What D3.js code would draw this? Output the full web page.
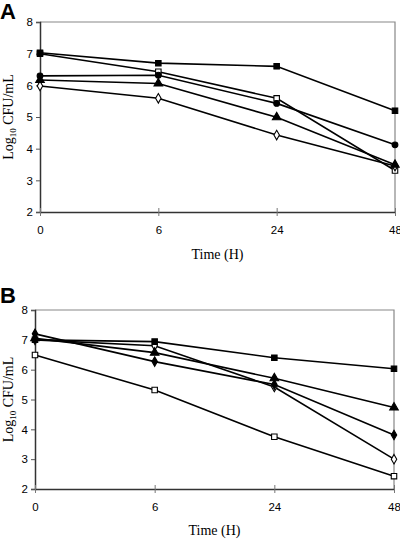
<!DOCTYPE html>
<html><head><meta charset="utf-8">
<script src="https://cdn.jsdelivr.net/npm/d3@7"></script>
<style>body{margin:0;background:#fff}svg{display:block}</style>
</head><body>
<svg id="c" width="400" height="542"></svg>
<script>
const times = ["0","6","24","48"];
const yTicks = [2,3,4,5,6,7,8];
// Panel A series
const aFilledSquare = [7.03, 6.70, 6.60, 5.20];
const aOpenSquare   = [7.00, 6.43, 5.59, 3.31];
const aFilledCircle = [6.30, 6.32, 5.43, 4.12];
const aFilledTri    = [6.17, 6.06, 4.99, 3.49];
const aOpenDiamond  = [5.98, 5.59, 4.43, 3.45];
// Panel B series
const bFilledSquare  = [7.00, 6.94, 6.40, 6.03];
const bFilledTri     = [7.05, 6.57, 5.71, 4.73];
const bFilledDiamond = [7.20, 6.27, 5.50, 3.81];
const bOpenDiamond   = [7.00, 6.80, 5.42, 3.00];
const bOpenSquare    = [6.49, 5.32, 3.75, 2.43];

const panels = [
  {label:"A", left:40, right:395, top:22, bottom:212, labelY:19, tickY:233, titleY:259,
   series:[
     {v:aOpenSquare, m:"square", fill:"#fff"},
     {v:aOpenDiamond, m:"diamond", fill:"#fff"},
     {v:aFilledSquare, m:"square", fill:"#000"},
     {v:aFilledCircle, m:"circle", fill:"#000"},
     {v:aFilledTri, m:"triangle", fill:"#000"}]},
  {label:"B", left:35, right:394, top:310, bottom:489, labelY:303, tickY:510, titleY:535,
   series:[
     {v:bOpenDiamond, m:"diamond", fill:"#fff"},
     {v:bOpenSquare, m:"square", fill:"#fff"},
     {v:bFilledSquare, m:"square", fill:"#000"},
     {v:bFilledTri, m:"triangle", fill:"#000"},
     {v:bFilledDiamond, m:"diamond", fill:"#000"}]}
];

const svg = d3.select("#c");
const sym = {square:d3.symbolSquare, circle:d3.symbolCircle, triangle:d3.symbolTriangle, diamond:d3.symbolDiamond};
const size = {square:30, circle:26, triangle:32, diamond:26};

panels.forEach(p => {
  const x = d3.scalePoint().domain(times).range([p.left, p.right]);
  const y = d3.scaleLinear().domain([2,8]).range([p.bottom, p.top]);
  const g = svg.append("g");
  g.append("path").attr("d", `M${p.left},${p.top}H${p.right}V${p.bottom}`)
    .attr("fill","none").attr("stroke","#888").attr("stroke-width",1.2);
  const ya = g.append("g").attr("transform",`translate(${p.left},0)`)
    .call(d3.axisLeft(y).tickValues(yTicks).tickSize(4).tickPadding(3).tickFormat(d3.format("d")));
  ya.select(".domain").attr("stroke","#333").attr("stroke-width",1.5);
  ya.selectAll(".tick line").attr("stroke","#555");
  ya.selectAll("text").attr("font-family","Liberation Sans, Arial, sans-serif").attr("font-size",11.5).attr("fill","#000");
  const xa = g.append("g").attr("transform",`translate(0,${p.bottom})`)
    .call(d3.axisBottom(x).tickSizeInner(4).tickSizeOuter(0).tickPadding(10));
  xa.select(".domain").attr("stroke","#333").attr("stroke-width",1.5);
  xa.selectAll(".tick line").attr("stroke","#777").attr("y1",-4);
  xa.selectAll("text").attr("font-family","Liberation Sans, Arial, sans-serif").attr("font-size",11.5).attr("fill","#000");
  g.append("text").attr("x",(p.left+p.right)/2).attr("y",p.titleY).attr("text-anchor","middle")
    .attr("font-family","Liberation Serif, Times New Roman, serif").attr("font-size",14).text("Time (H)");
  const cy = (p.top+p.bottom)/2;
  const yl = g.append("text").attr("transform",`translate(13,${cy}) rotate(-90)`).attr("text-anchor","middle")
    .attr("font-family","Liberation Serif, Times New Roman, serif").attr("font-size",14);
  yl.append("tspan").text("Log");
  yl.append("tspan").attr("font-size",9).attr("dy",3).text("10");
  yl.append("tspan").attr("dy",-3).text(" CFU/mL");
  g.append("text").attr("x",0).attr("y",p.labelY).attr("font-family","Liberation Sans, Arial, sans-serif")
    .attr("font-weight","bold").attr("font-size",22).text(p.label);
  const line = d3.line().x((d,i)=>x(times[i])).y(d=>y(d));
  p.series.forEach(s => {
    g.append("path").attr("d", line(s.v)).attr("fill","none").attr("stroke","#000").attr("stroke-width",1.6);
  });
  p.series.forEach(s => {
    g.selectAll(null).data(s.v).enter().append("path")
      .attr("transform",(d,i)=>`translate(${x(times[i])},${y(d)})`)
      .attr("d", d3.symbol().type(sym[s.m]).size(size[s.m]))
      .attr("fill", s.fill).attr("stroke","#000").attr("stroke-width",1.1);
  });
});
</script>
</body></html>
